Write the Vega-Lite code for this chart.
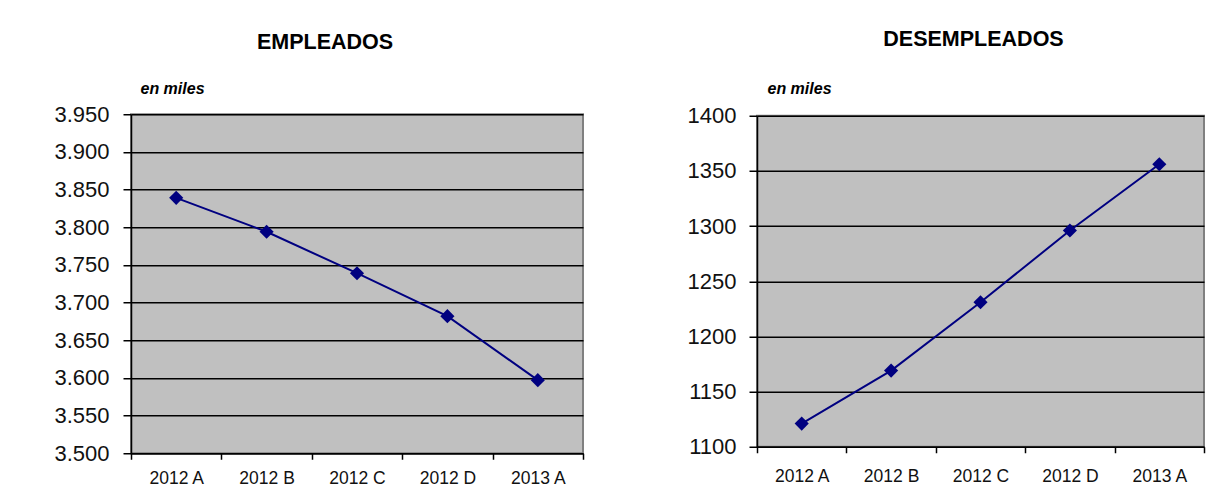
{
  "$schema": "https://vega.github.io/schema/vega-lite/v6.json",
  "background": "white",
  "padding": {"left": 52, "top": 28, "right": 5, "bottom": 0},
  "center": true,
  "config": {
    "font": "Liberation Sans",
    "locale": {"number": {"decimal": ",", "thousands": ".", "grouping": [3], "currency": ["", " €"]}},
    "view": {"fill": "#C0C0C0", "stroke": "#808080", "strokeWidth": 2},
    "axis": {
      "domainColor": "black", "domainWidth": 1.5,
      "tickColor": "black", "tickSize": 7, "tickWidth": 1.5,
      "gridColor": "black", "gridWidth": 1.3, "gridOpacity": 1,
      "labelColor": "#111111", "labelFont": "Liberation Sans"
    },
    "title": {"font": "Liberation Sans", "fontSize": 21.5, "fontWeight": "bold", "color": "black", "anchor": "middle"}
  },
  "datasets": {
    "empleados": [
      {"periodo": "2012 A", "valor": 3839},
      {"periodo": "2012 B", "valor": 3794},
      {"periodo": "2012 C", "valor": 3739},
      {"periodo": "2012 D", "valor": 3682},
      {"periodo": "2013 A", "valor": 3597}
    ],
    "desempleados": [
      {"periodo": "2012 A", "valor": 1121},
      {"periodo": "2012 B", "valor": 1169},
      {"periodo": "2012 C", "valor": 1231},
      {"periodo": "2012 D", "valor": 1296},
      {"periodo": "2013 A", "valor": 1356}
    ]
  },
  "spacing": 101,
  "hconcat": [
    {
      "title": {"text": "EMPLEADOS", "dx": -32, "offset": 27},
      "width": 452,
      "height": 339,
      "data": {"name": "empleados"},
      "encoding": {
        "x": {
          "field": "periodo", "type": "nominal", "sort": null,
          "scale": {"paddingInner": 0, "paddingOuter": 0},
          "axis": {"title": null, "labelAngle": 0, "labelFontSize": 17.5, "labelPadding": 10, "tickBand": "extent", "grid": false, "tickSize": 6}
        },
        "y": {
          "field": "valor", "type": "quantitative",
          "scale": {"domain": [3500, 3950], "nice": false, "zero": false},
          "axis": {
            "values": [3500, 3550, 3600, 3650, 3700, 3750, 3800, 3850, 3900, 3950],
            "format": ",d", "labelFontSize": 22, "labelPadding": 14, "tickSize": 8,
            "title": "en miles", "titleAngle": 0, "titleAlign": "left", "titleBaseline": "alphabetic",
            "titleX": 9, "titleY": -21, "titleFontSize": 16, "titleFontStyle": "italic", "titleFontWeight": "bold", "titleColor": "black"
          }
        }
      },
      "layer": [
        {"mark": {"type": "line", "color": "#000080", "strokeWidth": 2}},
        {"mark": {"type": "point", "shape": "diamond", "filled": true, "color": "#000080", "size": 200, "opacity": 1}}
      ]
    },
    {
      "title": {"text": "DESEMPLEADOS", "dx": -7, "offset": 30},
      "width": 447,
      "height": 331,
      "data": {"name": "desempleados"},
      "encoding": {
        "x": {
          "field": "periodo", "type": "nominal", "sort": null,
          "scale": {"paddingInner": 0, "paddingOuter": 0},
          "axis": {"title": null, "labelAngle": 0, "labelFontSize": 17.5, "labelPadding": 15, "tickBand": "extent", "grid": false, "tickSize": 6}
        },
        "y": {
          "field": "valor", "type": "quantitative",
          "scale": {"domain": [1100, 1400], "nice": false, "zero": false},
          "axis": {
            "values": [1100, 1150, 1200, 1250, 1300, 1350, 1400],
            "format": "d", "labelFontSize": 22, "labelPadding": 13, "tickSize": 8,
            "title": "en miles", "titleAngle": 0, "titleAlign": "left", "titleBaseline": "alphabetic",
            "titleX": 10, "titleY": -22, "titleFontSize": 16, "titleFontStyle": "italic", "titleFontWeight": "bold", "titleColor": "black"
          }
        }
      },
      "layer": [
        {"mark": {"type": "line", "color": "#000080", "strokeWidth": 2}},
        {"mark": {"type": "point", "shape": "diamond", "filled": true, "color": "#000080", "size": 200, "opacity": 1}}
      ]
    }
  ]
}
